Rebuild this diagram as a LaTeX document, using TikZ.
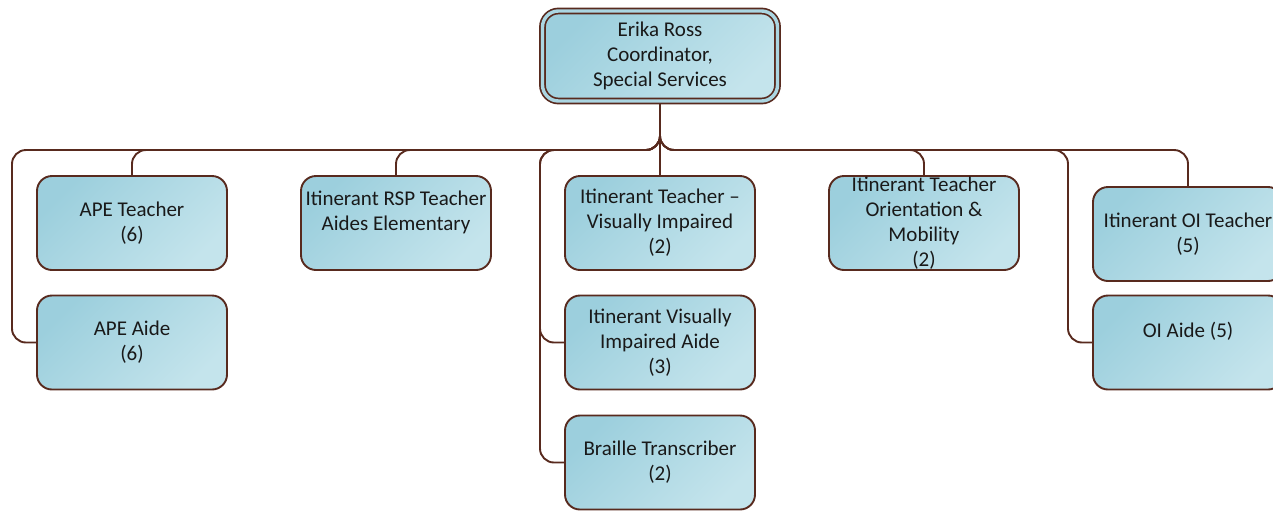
\documentclass[tikz,border=0pt]{standalone}
\usepackage{fontspec}
\setmainfont{Carlito}
\usetikzlibrary{calc}
\definecolor{brn}{RGB}{88,42,30}
\definecolor{bA}{RGB}{156,207,221}
\definecolor{bB}{RGB}{196,228,236}
\pgfdeclarelayer{background}
\pgfsetlayers{background,main}
\tikzset{
  box/.style={draw=brn, line width=1.9pt, rounded corners=15pt,
    minimum width=190pt, minimum height=94pt, align=center, inner sep=0pt,
    top color=bA, bottom color=bB, shading angle=45,
    font=\fontsize{21}{25}\selectfont, text=black!90},
  rootbox/.style={box, minimum width=235pt, minimum height=90pt,
    rounded corners=16pt, line width=1.7pt,
    double=bA!85!white, double distance=3.4pt},
  conn/.style={draw=brn, line width=1.9pt, rounded corners=14pt},
}
\begin{document}
\begin{tikzpicture}[x=1pt,y=-1pt]
\clip (0,0) rectangle (1273,512);
\node[rootbox] (root) at (660,56) {Erika Ross\\Coordinator,\\Special Services};
\node[box] (apeT) at (132,223) {APE Teacher\\(6)};
\node[box] (apeA) at (132,342.5) {APE Aide\\(6)};
\node[box] (rsp) at (396,223) {Itinerant RSP Teacher\\Aides Elementary\\\mbox{}};
\node[box] (vi) at (660,223) {Itinerant Teacher --\\Visually Impaired\\(2)};
\node[box] (viA) at (660,342.5) {Itinerant Visually\\Impaired Aide\\(3)};
\node[box] (br) at (660,462.5) {Braille Transcriber\\(2)};
\node[box] (om) at (924,223) {Itinerant Teacher\\Orientation \&\\Mobility\\(2)};
\node[box] (oiT) at (1188,234) {Itinerant OI Teacher\\(5)};
\node[box] (oiA) at (1188,342.5) {OI Aide (5)\\\mbox{}};
\coordinate (bus) at (0,150);
\coordinate (xL) at (12,150);
\coordinate (xM) at (540,150);
\coordinate (xR) at (1068,150);
\begin{pgfonlayer}{background}
\draw[conn] (root.south) -- (root.south |- bus) -| (apeT.north);
\draw[conn] (root.south) -- (root.south |- bus) -- (xL) -- (xL |- apeA.west) -- (apeA.west);
\draw[conn] (root.south) -- (root.south |- bus) -| (rsp.north);
\draw[conn] (root.south) -- (vi.north);
\draw[conn] (root.south) -- (root.south |- bus) -- (xM) -- (xM |- viA.west) -- (viA.west);
\draw[conn] (root.south) -- (root.south |- bus) -- (xM) -- (xM |- br.west) -- (br.west);
\draw[conn] (root.south) -- (root.south |- bus) -| (om.north);
\draw[conn] (root.south) -- (root.south |- bus) -| (oiT.north);
\draw[conn] (root.south) -- (root.south |- bus) -- (xR) -- (xR |- oiA.west) -- (oiA.west);
\end{pgfonlayer}
\end{tikzpicture}
\end{document}
